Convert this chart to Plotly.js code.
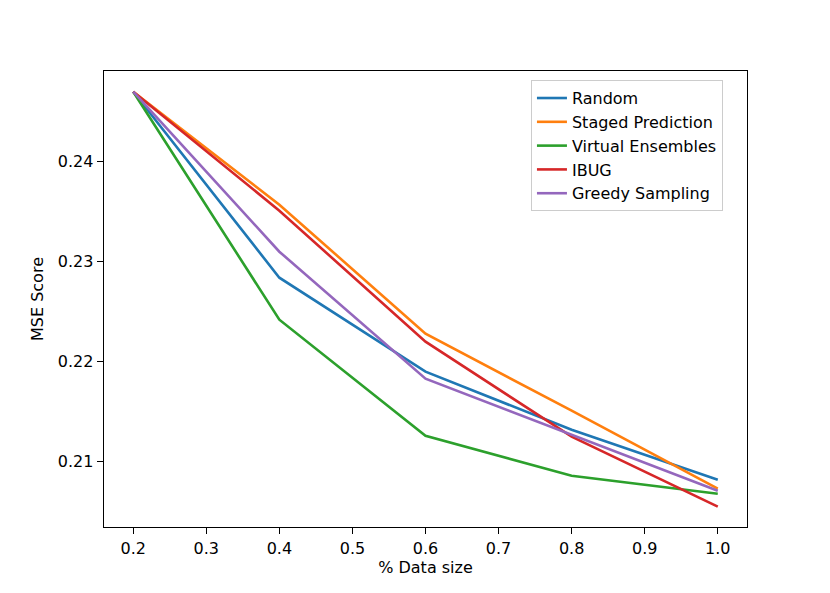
<!DOCTYPE html>
<html>
<head>
<meta charset="utf-8">
<script src="https://cdn.plot.ly/plotly-3.0.1.min.js"></script>
<style>
  html, body { margin: 0; padding: 0; background: #fff; }
  #plotDiv { width: 830px; height: 593px; }
</style>
</head>
<body>
<div id="plotDiv"></div>
<script>
'use strict';

// fraction of the data used for training
const dataSize = [0.2, 0.4, 0.6, 0.8, 1.0];

// MSE per sampling strategy
const randomMse  = [0.2470, 0.2284, 0.2190, 0.2132, 0.2082];
const stagedMse  = [0.2470, 0.2357, 0.2228, 0.2151, 0.2073];
const virtualMse = [0.2470, 0.2242, 0.2126, 0.2086, 0.2068];
const ibugMse    = [0.2470, 0.2351, 0.2220, 0.2125, 0.2055];
const greedyMse  = [0.2470, 0.2310, 0.2183, 0.2127, 0.2071];

const seriesNames = ['Random', 'Staged Prediction', 'Virtual Ensembles', 'IBUG', 'Greedy Sampling'];
const seriesValues = [randomMse, stagedMse, virtualMse, ibugMse, greedyMse];
const colors = ['#1f77b4', '#ff7f0e', '#2ca02c', '#d62728', '#9467bd'];

const xTicks = [0.2, 0.3, 0.4, 0.5, 0.6, 0.7, 0.8, 0.9, 1.0];
const xTickText = ['0.2', '0.3', '0.4', '0.5', '0.6', '0.7', '0.8', '0.9', '1.0'];
const yTicks = [0.21, 0.22, 0.23, 0.24];
const yTickText = ['0.21', '0.22', '0.23', '0.24'];

var data = [];
for (var i = 0; i < seriesNames.length; i++) {
    data.push({
        x: dataSize,
        y: seriesValues[i],
        name: seriesNames[i],
        type: 'scatter',
        mode: 'lines',
        line: {color: colors[i], width: 2.6}
    });
}

var axisStyle = {
    showgrid: false,
    zeroline: false,
    showline: true,
    mirror: true,
    linecolor: '#000',
    linewidth: 1.4,
    ticks: 'outside',
    ticklen: 6,
    tickwidth: 1.4,
    tickcolor: '#000',
    tickfont: {size: 16, color: '#000'},
    automargin: false
};

var layout = {
    width: 830,
    height: 593,
    font: {family: 'DejaVu Sans', size: 16, color: '#000'},
    paper_bgcolor: '#fff',
    plot_bgcolor: '#fff',
    margin: {l: 104, r: 83, t: 71, b: 66, pad: 0},
    showlegend: true,
    legend: {
        x: 0.664,
        y: 0.98,
        xanchor: 'left',
        yanchor: 'top',
        bgcolor: 'rgba(255,255,255,0.8)',
        bordercolor: '#cccccc',
        borderwidth: 1,
        font: {size: 16}
    },
    xaxis: Object.assign({}, axisStyle, {
        range: [0.16, 1.04],
        tickvals: xTicks,
        ticktext: xTickText,
        title: {text: '% Data size', font: {size: 16}, standoff: 4}
    }),
    yaxis: Object.assign({}, axisStyle, {
        range: [0.20347, 0.24907],
        tickvals: yTicks,
        ticktext: yTickText,
        title: {text: 'MSE Score', font: {size: 16}, standoff: 10}
    })
};

Plotly.newPlot('plotDiv', data, layout, {displayModeBar: false, staticPlot: true});
</script>
</body>
</html>
